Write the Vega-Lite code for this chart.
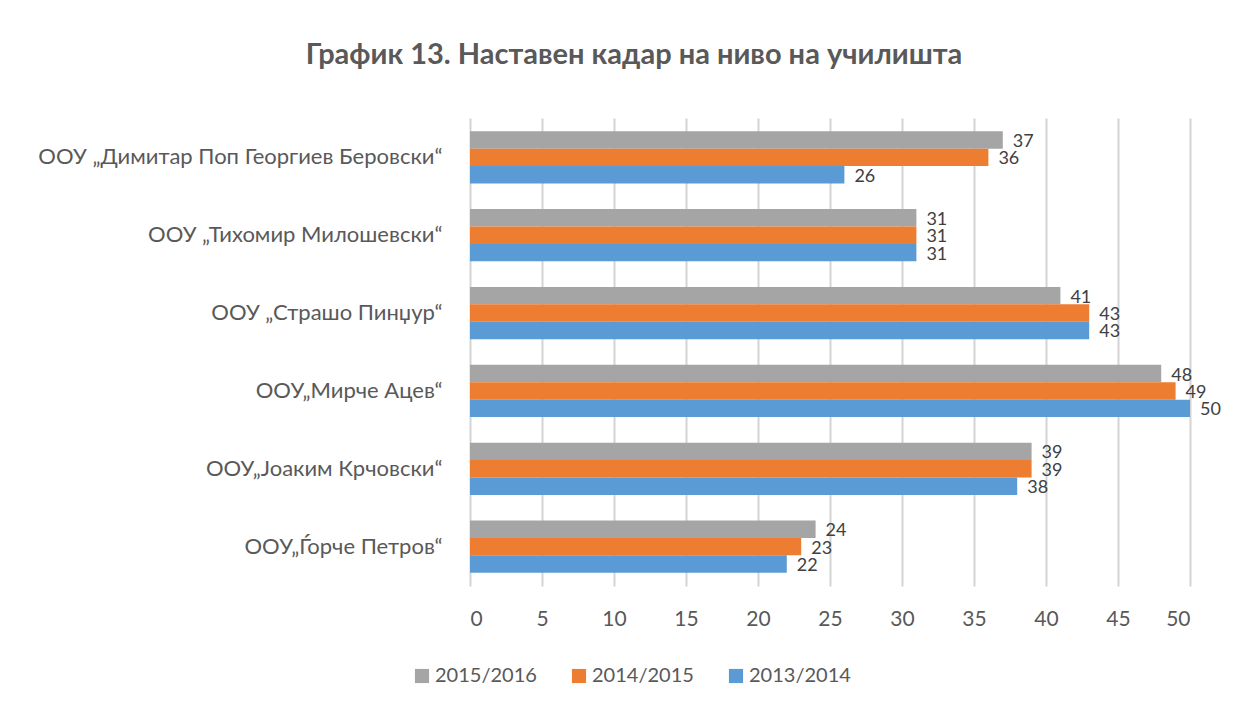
{
  "$schema": "https://vega.github.io/schema/vega-lite/v6.json",
  "autosize": {"type": "none"},
  "width": 720,
  "height": 468,
  "padding": {"left": 470, "top": 118, "right": 60, "bottom": 125},
  "background": "white",
  "title": {
    "text": "График 13. Наставен кадар на ниво на училишта",
    "font": "Lato",
    "fontSize": 29,
    "fontWeight": "bold",
    "color": "#595959",
    "anchor": "middle",
    "dx": -196,
    "offset": 48
  },
  "data": {
    "values": [
      {"school": "ООУ „Димитар Поп Георгиев Беровски“", "year": "2015/2016", "value": 37},
      {"school": "ООУ „Димитар Поп Георгиев Беровски“", "year": "2014/2015", "value": 36},
      {"school": "ООУ „Димитар Поп Георгиев Беровски“", "year": "2013/2014", "value": 26},
      {"school": "ООУ „Тихомир Милошевски“", "year": "2015/2016", "value": 31},
      {"school": "ООУ „Тихомир Милошевски“", "year": "2014/2015", "value": 31},
      {"school": "ООУ „Тихомир Милошевски“", "year": "2013/2014", "value": 31},
      {"school": "ООУ „Страшо Пинџур“", "year": "2015/2016", "value": 41},
      {"school": "ООУ „Страшо Пинџур“", "year": "2014/2015", "value": 43},
      {"school": "ООУ „Страшо Пинџур“", "year": "2013/2014", "value": 43},
      {"school": "ООУ„Мирче Ацев“", "year": "2015/2016", "value": 48},
      {"school": "ООУ„Мирче Ацев“", "year": "2014/2015", "value": 49},
      {"school": "ООУ„Мирче Ацев“", "year": "2013/2014", "value": 50},
      {"school": "ООУ„Јоаким Крчовски“", "year": "2015/2016", "value": 39},
      {"school": "ООУ„Јоаким Крчовски“", "year": "2014/2015", "value": 39},
      {"school": "ООУ„Јоаким Крчовски“", "year": "2013/2014", "value": 38},
      {"school": "ООУ„Ѓорче Петров“", "year": "2015/2016", "value": 24},
      {"school": "ООУ„Ѓорче Петров“", "year": "2014/2015", "value": 23},
      {"school": "ООУ„Ѓорче Петров“", "year": "2013/2014", "value": 22}
    ]
  },
  "encoding": {
    "y": {
      "field": "school",
      "type": "nominal",
      "sort": null,
      "scale": {"paddingInner": 0.33, "paddingOuter": 0.17},
      "axis": {
        "title": null,
        "ticks": false,
        "domain": false,
        "labelFont": "Lato",
        "labelFontSize": 22,
        "labelColor": "#595959",
        "labelPadding": 28,
        "labelLimit": 0
      }
    },
    "x": {
      "field": "value",
      "type": "quantitative",
      "scale": {"domain": [0, 50]},
      "axis": {
        "title": null,
        "values": [0, 5, 10, 15, 20, 25, 30, 35, 40, 45, 50],
        "ticks": false,
        "domain": false,
        "grid": true,
        "gridColor": "#d4d4d4",
        "gridWidth": 2,
        "labelFont": "Lato",
        "labelFontSize": 21,
        "labelColor": "#595959",
        "labelPadding": 22
      }
    },
    "yOffset": {
      "field": "year",
      "type": "nominal",
      "sort": ["2015/2016", "2014/2015", "2013/2014"]
    }
  },
  "layer": [
    {
      "mark": {"type": "bar", "stroke": null},
      "encoding": {
        "color": {
          "field": "year",
          "type": "nominal",
          "scale": {
            "domain": ["2015/2016", "2014/2015", "2013/2014"],
            "range": ["#a5a5a5", "#ed7d31", "#5b9bd5"]
          },
          "legend": {
            "title": null,
            "orient": "none",
            "direction": "horizontal",
            "legendX": -58,
            "legendY": 548,
            "symbolType": "square",
            "symbolSize": 200,
            "symbolStrokeWidth": 0,
            "labelFont": "Lato",
            "labelFontSize": 20,
            "labelColor": "#595959",
            "columnPadding": 32,
            "labelOffset": 3
          }
        }
      }
    },
    {
      "mark": {
        "type": "text",
        "align": "left",
        "baseline": "middle",
        "dx": 10,
        "dy": 2,
        "font": "Lato",
        "fontSize": 18,
        "color": "#404040"
      },
      "encoding": {
        "text": {"field": "value", "type": "quantitative"}
      }
    }
  ],
  "config": {"view": {"stroke": null}}
}
